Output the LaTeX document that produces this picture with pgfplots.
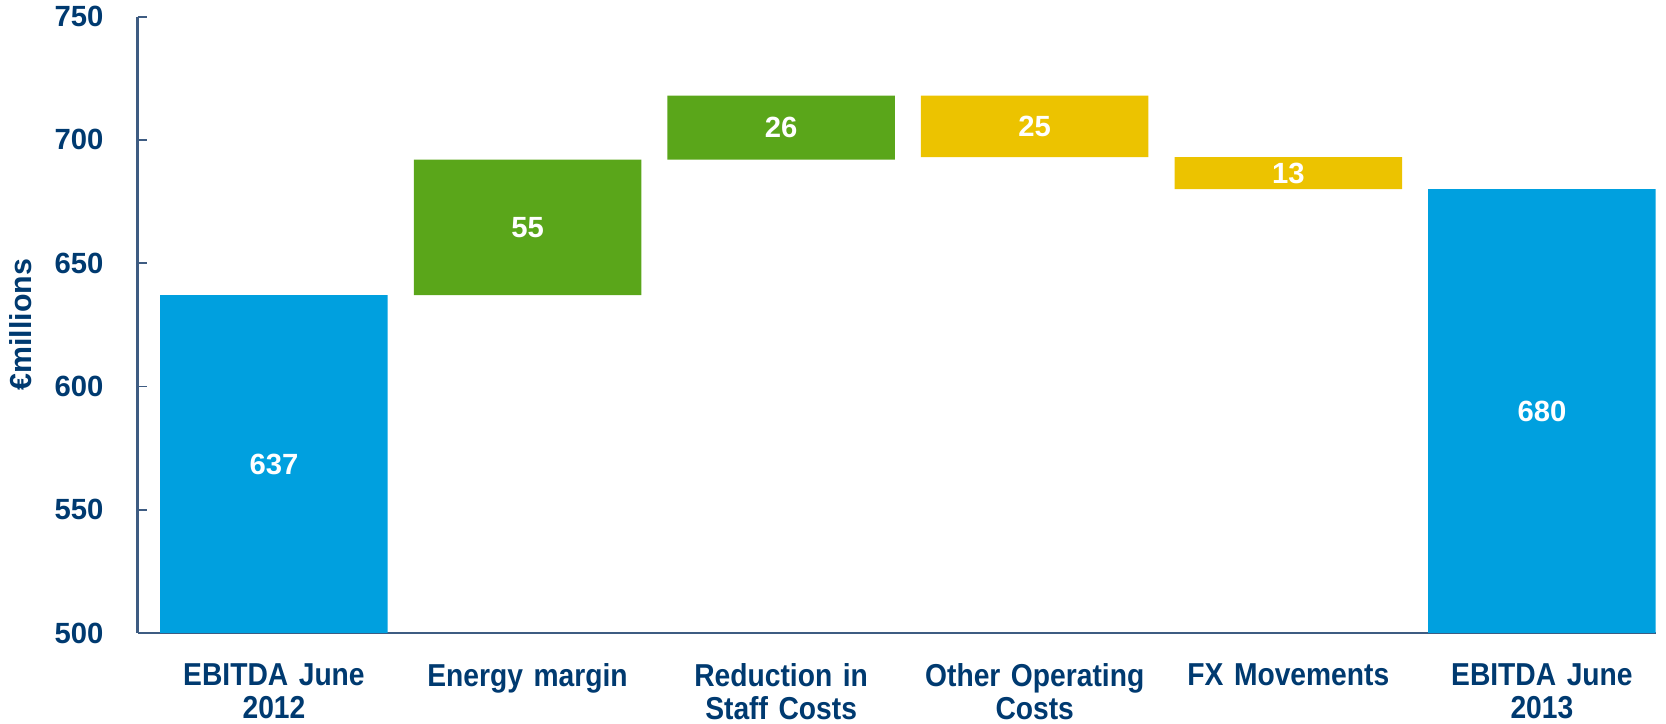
\documentclass[border={0pt 1.2pt 0pt 2.3pt}]{standalone}
\usepackage{pgfplots}
\pgfplotsset{compat=1.18}
\usepackage{fontspec}
\setmainfont{Liberation Sans}
\newfontfamily\narrowfont[FakeStretch=0.89]{Liberation Sans}

\definecolor{navy}{RGB}{0,58,112}
\definecolor{axisblue}{RGB}{62,92,130}
\definecolor{barblue}{RGB}{0,160,223}
\definecolor{bargreen}{RGB}{90,166,26}
\definecolor{baryellow}{RGB}{236,195,0}

\pgfplotsset{
  frame/.style={
    scale only axis, width=550.6pt, height=223.5pt,
    xmin=-0.538, xmax=5.449, ymin=500, ymax=750,
  }
}

\begin{document}
\begin{tikzpicture}
\begin{axis}[
    frame,
    ybar stacked,
    bar width=82.5pt,
    axis lines=left,
    axis line style={-, draw=axisblue, line width=0.8pt},
    ytick={500,550,...,750},
    ytick pos=left,
    tick align=inside,
    major tick length=3.3pt,
    ytick style={draw=axisblue, line width=0.6pt},
    xtick={0,...,5},
    xtick style={draw=none},
    xticklabels={EBITDA June\\2012, Energy margin, Reduction in\\Staff Costs,
                 Other Operating\\Costs, FX Movements, EBITDA June\\2013},
    xticklabel style={align=center, text width=90pt, inner sep=0pt, yshift=-11pt,
                      font=\narrowfont\bfseries\fontsize{11.5}{12}\selectfont, text=navy},
    yticklabel style={inner sep=0pt, xshift=-12.2pt,
                      font=\bfseries\fontsize{10.6}{12}\selectfont, text=navy},
    /pgf/number format/assume math mode=true,
    ylabel={€millions},
    every axis y label/.style={at={(axis description cs:-0.0772,0.5)}, rotate=90, anchor=center,
                               font=\bfseries\fontsize{11}{12}\selectfont, text=navy},
]
% invisible base
\addplot[draw=none, fill=none] coordinates {(0,0) (1,637) (2,692) (3,693) (4,680) (5,0)};
% totals
\addplot[draw=none, fill=barblue] coordinates {(0,637) (1,0) (2,0) (3,0) (4,0) (5,680)};
% increases
\addplot[draw=none, fill=bargreen] coordinates {(0,0) (1,55) (2,26) (3,0) (4,0) (5,0)};
% decreases
\addplot[draw=none, fill=baryellow] coordinates {(0,0) (1,0) (2,0) (3,25) (4,13) (5,0)};
\end{axis}

% value labels, centred in the visible part of each bar
\begin{axis}[
    frame,
    hide axis,
    clip=false,
    nodes near coords,
    point meta=explicit symbolic,
    every node near coord/.append style={anchor=center, text=white,
        font=\bfseries\fontsize{10.6}{12}\selectfont},
]
\addplot[draw=none, mark=none] coordinates {
  (0,568.5)[637] (1,664.5)[55] (2,705)[26] (3,705.5)[25] (4,686.5)[13] (5,590)[680]
};
\end{axis}
\end{tikzpicture}
\end{document}
